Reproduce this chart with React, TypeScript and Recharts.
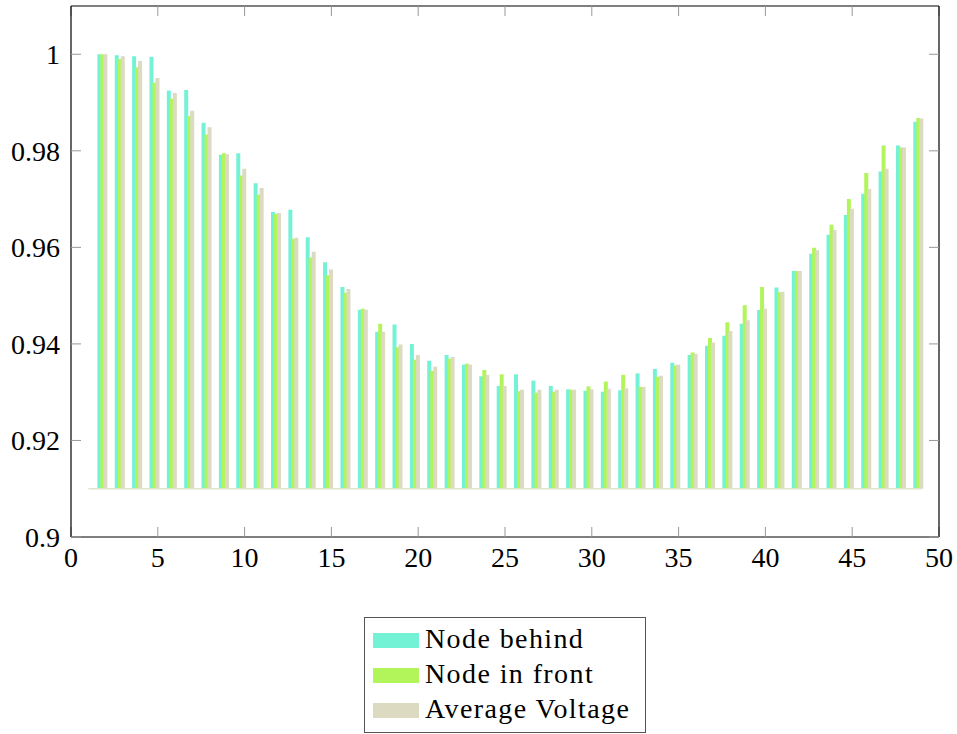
import { BarChart, Bar, XAxis, YAxis, ReferenceLine } from 'recharts'

// node index along the feeder
const nodes = [
  1, 2, 3, 4, 5, 6, 7, 8, 9, 10, 11, 12, 13, 14, 15, 16, 17, 18, 19, 20, 21, 22, 23, 24,
  25, 26, 27, 28, 29, 30, 31, 32, 33, 34, 35, 36, 37, 38, 39, 40, 41, 42, 43, 44, 45, 46, 47, 48,
]

const nodeBehind = [
  1.0, 0.9998, 0.9996, 0.9995, 0.9925, 0.9926, 0.9858, 0.9792, 0.9795, 0.9733,
  0.9673, 0.9678, 0.9621, 0.9569, 0.9518, 0.9471, 0.9425, 0.944, 0.94, 0.9365,
  0.9377, 0.9357, 0.9333, 0.9313, 0.9337, 0.9324, 0.9313, 0.9306, 0.9303, 0.9301,
  0.9304, 0.9339, 0.9348, 0.9361, 0.9377, 0.9396, 0.9417, 0.9442, 0.947, 0.9517,
  0.9551, 0.9587, 0.9626, 0.9667, 0.9711, 0.9757, 0.9811, 0.986,
]

const nodeInFront = [
  1.0, 0.999, 0.9973, 0.9941, 0.9908, 0.9872, 0.9834, 0.9795, 0.9749, 0.9709,
  0.9669, 0.9618, 0.9579, 0.9542, 0.9506, 0.9473, 0.9442, 0.9393, 0.9367, 0.9344,
  0.9369, 0.9359, 0.9346, 0.9337, 0.9302, 0.9299, 0.9301, 0.9305, 0.9312, 0.9322,
  0.9336, 0.9311, 0.9332, 0.9355, 0.9382, 0.9412, 0.9445, 0.948, 0.9518, 0.9507,
  0.9551, 0.9599, 0.9647, 0.97, 0.9754, 0.9811, 0.9807, 0.9868,
]

const averageVoltage = [
  1.0, 0.9996, 0.9986, 0.9951, 0.992, 0.9883, 0.9849, 0.9793, 0.9763, 0.9723,
  0.9671, 0.962, 0.9591, 0.9554, 0.9514, 0.9471, 0.9425, 0.9399, 0.9377, 0.9353,
  0.9373, 0.9357, 0.9336, 0.9313, 0.9305, 0.9305, 0.9305, 0.9305, 0.9306, 0.9307,
  0.9308, 0.9311, 0.9334, 0.9357, 0.9379, 0.9403, 0.9427, 0.9449, 0.9473, 0.9508,
  0.9551, 0.9594, 0.9636, 0.968, 0.9721, 0.9763, 0.9807, 0.9867,
]

const xTicks = [0, 5, 10, 15, 20, 25, 30, 35, 40, 45, 50]
const yTicks = [0.9, 0.92, 0.94, 0.96, 0.98, 1]

// bars start from this level, the line runs from node 1 to 49
const baseline = 0.91
const baselineFrom = 1
const baselineTo = 49

const series = [
  { key: 'behind', name: 'Node behind', color: '#74f2d6' },
  { key: 'front', name: 'Node in front', color: '#b1f55a' },
  { key: 'avg', name: 'Average Voltage', color: '#dcdac0' },
]

// groups sit a bit right of the integer positions in the original
const xShift = 0.79

const data = nodes.map((n, i) => ({
  pos: n + xShift,
  behind: [baseline, nodeBehind[i]],
  front: [baseline, nodeInFront[i]],
  avg: [baseline, averageVoltage[i]],
}))

const font = "'Times New Roman', 'Liberation Serif', Tinos, 'Noto Serif', 'DejaVu Serif', FreeSerif, serif"
const tickStyle = { fontFamily: font, fontSize: 28, fill: '#000' }
const tickLine = { stroke: '#999', strokeWidth: 1 }
const axisLine = { stroke: '#000', strokeWidth: 1.2 }

const fmtY = (v: number) => String(+v.toFixed(2))

export default function App() {
  return (
    <div style={{ position: 'absolute', left: 0, top: 0, width: 957, height: 734, background: '#fff' }}>
      <BarChart
        width={957}
        height={580}
        data={data}
        margin={{ top: 5, right: 17, bottom: 3, left: 0 }}
        barSize={4}
        barGap={-1}
        style={{ fontFamily: font }}
      >
        <XAxis
          xAxisId="bottom"
          dataKey="pos"
          type="number"
          domain={[0, 50]}
          ticks={xTicks}
          height={40}
          tickSize={-10}
          tickMargin={20}
          tick={tickStyle}
          tickLine={tickLine}
          axisLine={axisLine}
          allowDataOverflow
        />
        <XAxis
          xAxisId="top"
          orientation="top"
          dataKey="pos"
          type="number"
          domain={[0, 50]}
          ticks={xTicks}
          height={1}
          tickSize={-10}
          tickFormatter={() => ''}
          tickLine={tickLine}
          axisLine={axisLine}
          allowDataOverflow
        />
        <YAxis
          yAxisId="left"
          type="number"
          domain={[0.9, 1.01]}
          ticks={yTicks}
          width={71}
          tickSize={-10}
          tickMargin={21}
          tickFormatter={fmtY}
          tick={tickStyle}
          tickLine={tickLine}
          axisLine={axisLine}
          allowDataOverflow
        />
        <YAxis
          yAxisId="right"
          orientation="right"
          type="number"
          domain={[0.9, 1.01]}
          ticks={yTicks}
          width={1}
          tickSize={-10}
          tickFormatter={() => ''}
          tickLine={tickLine}
          axisLine={axisLine}
          allowDataOverflow
        />
        <ReferenceLine
          xAxisId="bottom"
          yAxisId="left"
          segment={[{ x: baselineFrom, y: baseline }, { x: baselineTo, y: baseline }]}
          stroke="#dde6c8"
          strokeWidth={1.5}
        />
        {series.map((s) => (
          <Bar
            key={s.key}
            xAxisId="bottom"
            yAxisId="left"
            dataKey={s.key}
            name={s.name}
            fill={s.color}
            isAnimationActive={false}
          />
        ))}
      </BarChart>

      <div
        style={{
          position: 'absolute',
          left: 364,
          top: 617,
          width: 280,
          height: 111,
          border: '1px solid #555',
          paddingTop: 3,
          boxSizing: 'content-box',
          fontFamily: font,
          fontSize: 28,
          letterSpacing: 1.4,
          color: '#000',
        }}
      >
        {series.map((s) => (
          <div key={s.key} style={{ height: 35, lineHeight: '35px', whiteSpace: 'nowrap', paddingLeft: 8 }}>
            <span
              style={{
                display: 'inline-block',
                width: 46,
                height: 15,
                background: s.color,
                marginRight: 6,
                verticalAlign: 'baseline',
              }}
            />
            {s.name}
          </div>
        ))}
      </div>
    </div>
  )
}
